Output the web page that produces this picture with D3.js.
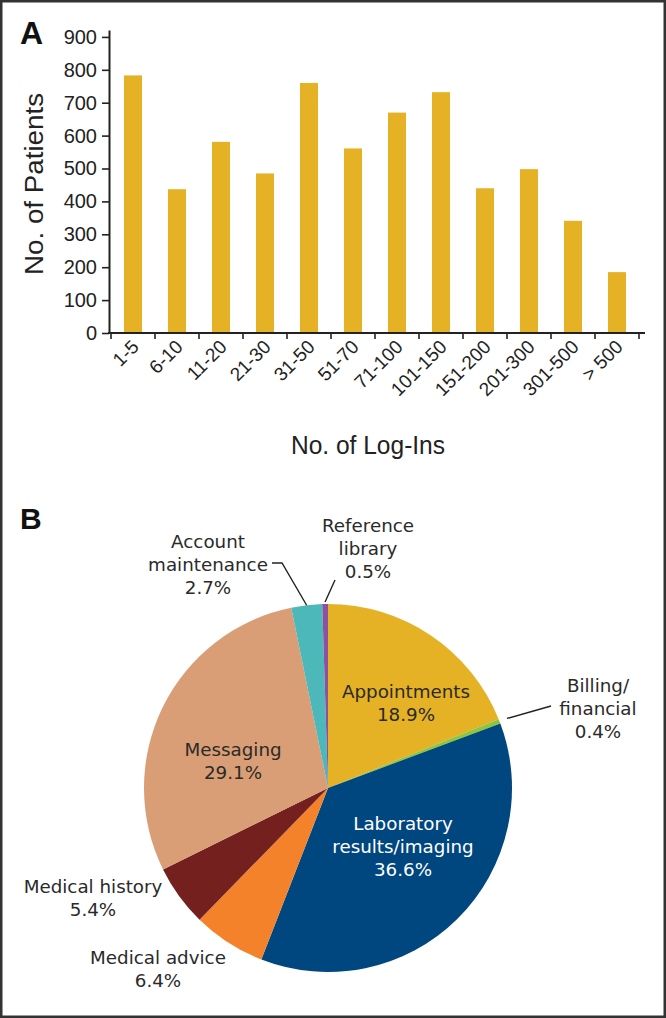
<!DOCTYPE html>
<html>
<head>
<meta charset="utf-8">
<script src="https://cdn.jsdelivr.net/npm/d3@7/dist/d3.min.js"></script>
<style>
  html, body { margin: 0; padding: 0; background: #fff; }
  svg { display: block; }
</style>
</head>
<body>
<script>
// ---------- DATA ----------
const logInCategories = ["1-5","6-10","11-20","21-30","31-50","51-70","71-100","101-150","151-200","201-300","301-500","> 500"];
const patientCounts   = [783, 437, 581, 485, 760, 561, 670, 732, 440, 498, 341, 185];
const yTickValues     = [0, 100, 200, 300, 400, 500, 600, 700, 800, 900];

const featureNames    = ["Appointments", "Billing/financial", "Laboratory results/imaging", "Medical advice", "Medical history", "Messaging", "Account maintenance", "Reference library"];
const featurePercents = [18.9, 0.4, 36.6, 6.4, 5.4, 29.1, 2.7, 0.5];
const featureLabelLines = [["Appointments"], ["Billing/", "financial"], ["Laboratory", "results/imaging"], ["Medical advice"], ["Medical history"], ["Messaging"], ["Account", "maintenance"], ["Reference", "library"]];

// ---------- STYLE / LAYOUT ----------
const W = 666, H = 1018;
const barColor = "#E5B125";
const sliceColors = ["#E5B125", "#8CC63E", "#00467F", "#F4822A", "#74201F", "#D99E75", "#4DB8B9", "#8B52A1"];
const labelFill   = ["#2a2a2a", "#2a2a2a", "#ffffff", "#2a2a2a", "#2a2a2a", "#2a2a2a", "#2a2a2a", "#2a2a2a"];
// label layout: center x, first baseline y
const labelLayout = [
  {x: 406, y: 698}, {x: 598, y: 692}, {x: 403, y: 830}, {x: 158, y: 964},
  {x: 93, y: 893},  {x: 233, y: 756}, {x: 208, y: 548}, {x: 368, y: 532}
];
// leader lines: start point near label, (optional elbow), then to slice edge
const leaderLayout = {
  1: {pts: [[551, 706]], rOff: 8},
  6: {pts: [[272, 563], [282, 563]], rOff: 0},
  7: {pts: [[335, 580]], rOff: 2}
};
const lineH = 22.8;
const axisFont = "'Liberation Sans', Arial, Helvetica, sans-serif";
const pieFont = "'DejaVu Sans', Verdana, sans-serif";
const txt = "#222";

const svg = d3.select("body").append("svg").attr("width", W).attr("height", H);
svg.append("rect").attr("width", W).attr("height", H).attr("fill", "#fff");

// ---------- PANEL A: BAR CHART ----------
const x = d3.scaleBand().domain(logInCategories).range([111, 639])
  .paddingInner(0.59).paddingOuter(0.295);
const y = d3.scaleLinear().domain([0, 921]).range([333, 30]);

const gA = svg.append("g");

gA.selectAll("rect.bar").data(patientCounts).join("rect")
  .attr("class", "bar")
  .attr("x", (d, i) => x(logInCategories[i]))
  .attr("width", x.bandwidth())
  .attr("y", d => y(d))
  .attr("height", d => y(0) - y(d))
  .attr("fill", barColor);

// Y axis
const yAxis = d3.axisLeft(y).tickValues(yTickValues).tickSize(7).tickSizeOuter(0).tickPadding(5);
const gy = gA.append("g").attr("transform", "translate(109,0)").call(yAxis);
gy.select(".domain").attr("stroke", txt).attr("stroke-width", 2);
gy.selectAll(".tick line").attr("stroke", txt).attr("stroke-width", 1.6);
gy.selectAll(".tick text").attr("font-family", axisFont).attr("font-size", 20).attr("fill", txt);

// X axis baseline + boundary ticks
const gx = gA.append("g");
gx.append("line").attr("x1", 108).attr("x2", 645).attr("y1", y(0)).attr("y2", y(0))
  .attr("stroke", txt).attr("stroke-width", 2);
const boundaries = d3.range(logInCategories.length + 1).map(i => x.range()[0] + i * x.step());
gx.selectAll("line.bt").data(boundaries).join("line").attr("class", "bt")
  .attr("x1", d => d).attr("x2", d => d).attr("y1", y(0)).attr("y2", y(0) + 6)
  .attr("stroke", txt).attr("stroke-width", 1.6);
const xAxis = d3.axisBottom(x).tickSize(0).tickPadding(0);
const gxl = gA.append("g").attr("transform", `translate(0,${y(0)})`).call(xAxis);
gxl.select(".domain").remove();
gxl.selectAll(".tick text")
  .attr("font-family", axisFont).attr("font-size", 19).attr("fill", txt)
  .attr("text-anchor", "end")
  .attr("dy", 0).attr("y", 0)
  .attr("transform", "translate(7,15) rotate(-45)");

// axis titles
gA.append("text").attr("x", 368).attr("y", 454).attr("text-anchor", "middle")
  .attr("font-family", axisFont).attr("font-size", 26).attr("fill", txt)
  .attr("textLength", 154).attr("lengthAdjust", "spacingAndGlyphs")
  .text("No. of Log-Ins");
gA.append("text").attr("transform", "translate(43,184) rotate(-90)").attr("text-anchor", "middle")
  .attr("font-family", axisFont).attr("font-size", 26).attr("fill", txt)
  .attr("textLength", 182).attr("lengthAdjust", "spacingAndGlyphs")
  .text("No. of Patients");

// panel letters
svg.append("text").attr("x", 20).attr("y", 44).attr("font-family", axisFont)
  .attr("font-weight", "bold").attr("font-size", 32).attr("fill", "#111").text("A");
svg.append("text").attr("x", 20).attr("y", 529).attr("font-family", axisFont)
  .attr("font-weight", "bold").attr("font-size", 30).attr("fill", "#111").text("B");

// ---------- PANEL B: PIE ----------
const cx = 328, cy = 788, R = 184;
const pie = d3.pie().sort(null).value(d => d);
const arcs = pie(featurePercents);
const arc = d3.arc().innerRadius(0).outerRadius(R);
const gB = svg.append("g").attr("transform", `translate(${cx},${cy})`);
gB.selectAll("path").data(arcs).join("path")
  .attr("d", arc).attr("fill", (d, i) => sliceColors[i]);

// leader lines
Object.keys(leaderLayout).forEach(k => {
  const i = +k, L = leaderLayout[k];
  const a = arcs[i];
  const mid = (a.startAngle + a.endAngle) / 2;
  const r = R + L.rOff;
  const end = [cx + r * Math.sin(mid), cy - r * Math.cos(mid)];
  svg.append("path")
    .attr("d", d3.line()(L.pts.concat([end])))
    .attr("fill", "none").attr("stroke", txt).attr("stroke-width", 1.4);
});

// labels
featureNames.forEach((name, i) => {
  const lines = featureLabelLines[i].concat([featurePercents[i].toFixed(1) + "%"]);
  const t = svg.append("text")
    .attr("x", labelLayout[i].x).attr("y", labelLayout[i].y)
    .attr("text-anchor", "middle")
    .attr("font-family", pieFont).attr("font-size", 18.3)
    .attr("fill", labelFill[i]);
  lines.forEach((ln, j) => {
    t.append("tspan").attr("x", labelLayout[i].x).attr("y", labelLayout[i].y + j * lineH).text(ln);
  });
});

// frame
svg.append("rect").attr("x", 1.25).attr("y", 1.25).attr("width", W - 2.5).attr("height", H - 2.5)
  .attr("fill", "none").attr("stroke", "#333").attr("stroke-width", 2.5);
</script>
</body>
</html>
